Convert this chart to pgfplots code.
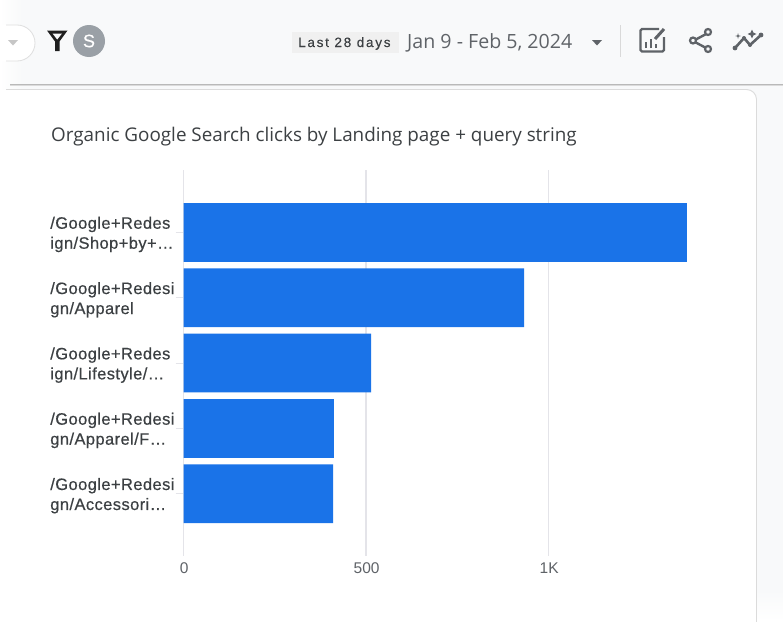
\documentclass[border=0pt]{standalone}
\usepackage{fontspec}
\setmainfont{Liberation Sans}
\newfontfamily\titlefont{Open Sans}
\newfontfamily\labelfont[FakeBold=0.5,LetterSpace=2.5]{Liberation Sans}
\newfontfamily\spacedfont[LetterSpace=13,FakeBold=0.3]{Liberation Sans}
\usepackage{pgfplots}
\pgfplotsset{compat=1.18}
\definecolor{pagebg}{HTML}{F8F9FA}
\definecolor{gridc}{HTML}{E4E4E9}
\definecolor{barc}{HTML}{1A73E8}
\definecolor{inkd}{HTML}{3C4043}
\definecolor{inkm}{HTML}{5F6368}
\definecolor{avatar}{HTML}{9AA0A6}
\begin{document}
\begin{tikzpicture}[x=1pt,y=-1pt]
% page and card
\useasboundingbox (0,0) rectangle (783,621);
\fill[pagebg] (0,0) rectangle (783,621);
\shade[left color=white,right color=pagebg] (0,0) rectangle (22,89);
\fill[white] (-1,25) -- (17,25) arc (-90:90:18) -- (-1,61) -- cycle;
\draw[draw=gray!25,line width=.8pt] (6,25) -- (17,25) arc (-90:90:18) -- (6,61);
\fill[gray!45] (8,40) -- (18,40) -- (13,45.5) -- cycle;
\shade[top color=gray!55,bottom color=gray!15] (10,84) rectangle (783,85.5);
\fill[white,rounded corners=10pt] (-12,89.5) -- (756.5,89.5) -- (756.5,640) -- (-12,640) -- cycle;
\draw[gray!28,line width=.9pt,rounded corners=10pt] (6,89.5) -- (756.5,89.5) -- (756.5,640);
\shade[top color=pagebg,bottom color=white] (757.1,590) rectangle (783,621);
% toolbar
\fill[black!88] (47,30.5) -- (67.5,30.5) -- (59.5,41.5) -- (59.5,51) -- (55,51) -- (55,41.5) -- cycle;
\fill[pagebg] (52.5,33.5) -- (62,33.5) -- (57.2,39.5) -- cycle;
\fill[avatar] (89,41) circle (16);
\node[text=white,font=\labelfont\fontsize{18}{20}\selectfont] at (89,41) {S};
\fill[gray!12] (292,32) rectangle (399,53);
\node[anchor=base west,inner sep=0,text=inkd,font=\spacedfont\fontsize{13.5}{16}\selectfont] at (298,47) {Last 28 days};
\node[anchor=base west,inner sep=0,text=inkm,font=\titlefont\fontsize{19.6}{20}\selectfont] at (407,48) {Jan 9 - Feb 5, 2024};
\fill[inkm] (592,40) -- (602,40) -- (597,45.5) -- cycle;
\draw[gray!30,line width=.9pt] (620.5,25) -- (620.5,57);
% edit-chart icon
\draw[inkm,line width=2.4pt,rounded corners=1.5pt] (659,29) -- (640.5,29) -- (640.5,51.5) -- (664,51.5) -- (664,37);
\draw[inkm,line width=2.2pt] (646,48) -- (646,42) (651,48) -- (651,38.5) (656,48) -- (656,44);
\draw[inkm,line width=3pt] (655,39) -- (664,29);
% share icon
\draw[inkm,line width=2.4pt] (708,33) -- (693,41) -- (708,49);
\draw[inkm,line width=2.2pt,fill=pagebg] (708,32) circle (3) (693,40.5) circle (3) (708,49) circle (3);
% insights icon
\draw[inkm,line width=2.6pt,line join=round] (735,48) -- (744,38) -- (750,45) -- (761,35);
\fill[inkm] (735,48) circle (2.4) (761,35) circle (2.4) (744,38) circle (2) (750,45) circle (2);
\fill[inkm] (752,29.5) -- (753.4,32.6) -- (756.5,34) -- (753.4,35.4) -- (752,38.5) -- (750.6,35.4) -- (747.5,34) -- (750.6,32.6) -- cycle;
\fill[inkm] (738,33) -- (738.6,35.4) -- (741,36) -- (738.6,36.6) -- (738,39) -- (737.4,36.6) -- (735,36) -- (737.4,35.4) -- cycle;
% title
\node[anchor=base west,inner sep=0,text=inkd,font=\titlefont\fontsize{18.85}{20}\selectfont] at (51,141) {Organic Google Search clicks by Landing page + query string};
% chart
\begin{axis}[
  at={(183.5pt,-556.4pt)},anchor=south west,
  scale only axis,width=546.5pt,height=386pt,
  xmin=0,xmax=1497,
  ymin=-0.95,ymax=4.96,y dir=reverse,
  xbar,bar width=58.8pt,bar shift=0pt,
  axis line style={draw=none},
  xtick={0,500,1000},xticklabels={0,500,1K},
  ytick={0,1,2,3,4},
  ytick pos=left,
  yticklabels={{/Google+Redes\\ign/Shop+by+…},{/Google+Redesi\\gn/Apparel},{/Google+Redes\\ign/Lifestyle/…},{/Google+Redesi\\gn/Apparel/F…},{/Google+Redesi\\gn/Accessori…}},
  xmajorgrids,major grid style={gridc,line width=1.4pt},
  x tick style={draw=none},
  y tick style={gridc,line width=1pt},
  major tick length=8pt,
  tick align=outside,
  xticklabel style={font=\fontsize{15.5}{16}\selectfont,text=inkm,inner sep=0,yshift=2pt,xshift=0.6pt},
  yticklabel style={font=\labelfont\fontsize{16.5}{20}\selectfont,text=inkd,align=left,text width=124pt,inner sep=0,xshift=-1pt,yshift=-2pt},
  clip=false,
]
\addplot[fill=barc,draw=none] coordinates {(1379,0) (933,1) (514,2) (412,3) (410,4)};
\end{axis}
\end{tikzpicture}
\end{document}
